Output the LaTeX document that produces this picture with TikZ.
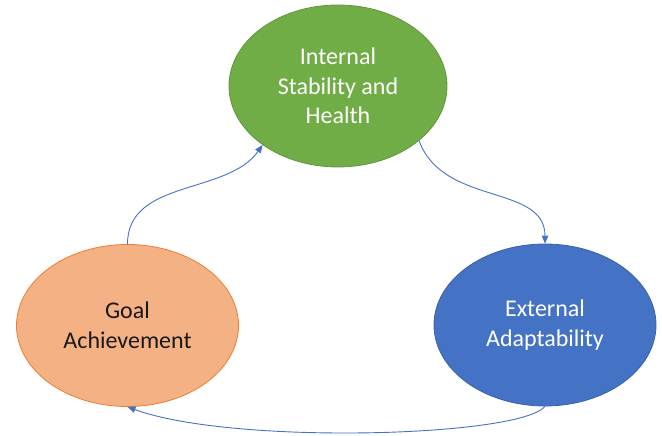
\documentclass[tikz,border=0pt]{standalone}
\usepackage{fontspec}
\setmainfont{Carlito}
\usetikzlibrary{arrows.meta}
\usetikzlibrary{shapes.geometric}

\definecolor{ofgreen}{RGB}{112,173,71}
\definecolor{ofgreenline}{RGB}{96,150,60}
\definecolor{oforange}{RGB}{244,177,131}
\definecolor{oforangeline}{RGB}{237,125,49}
\definecolor{ofblue}{RGB}{68,114,196}
\definecolor{ofblueline}{RGB}{58,98,170}
\definecolor{linkblue}{RGB}{68,114,196}

\begin{document}
\begin{tikzpicture}[x=1pt, y=1pt,
 bubble/.style={ellipse, minimum width=222pt, minimum height=162pt, inner sep=0pt,
  align=center, font=\fontsize{24}{29.5}\selectfont, line width=.8pt},
 link/.style={linkblue, line width=.9pt, -{Triangle[length=8pt, width=6.5pt]}}]
\useasboundingbox (0,0) rectangle (662,436);
\node[bubble, fill=ofgreen, draw=ofgreenline, text=white, minimum width=218pt] (stab) at (338,350) {Internal\\Stability and\\Health};
\node[bubble, fill=oforange, draw=oforangeline, text=black!90] (goal) at (127.5,110.5) {Goal\\Achievement};
\node[bubble, fill=ofblue, draw=ofblueline, text=white] (adapt) at (545,111) {External\\Adaptability};
\draw[link] (goal.north) .. controls +(0,65) and +(-35,-50) .. (stab.218);
\draw[link] (stab.-34) .. controls +(-70:70) and +(0,60) .. (adapt.north);
\draw[link] (adapt.south) .. controls +(-130:40) and +(-20:112) .. (goal.south);
\end{tikzpicture}
\end{document}
